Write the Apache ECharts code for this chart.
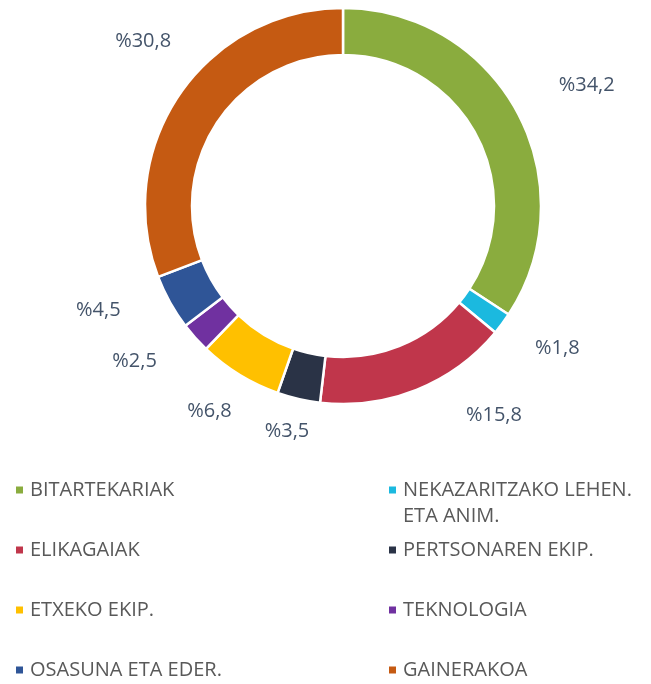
<!DOCTYPE html>
<html>
<head>
<meta charset="utf-8">
<script src="https://cdn.jsdelivr.net/npm/echarts@6/dist/echarts.min.js"></script>
<style>
  html, body { margin: 0; padding: 0; background: #fff; }
  #chart { width: 651px; height: 684px; }
</style>
</head>
<body>
<div id="chart"></div>
<script>
// sector names, shares (%) and colours
var names = [
  'BITARTEKARIAK',
  'NEKAZARITZAKO LEHEN. ETA ANIM.',
  'ELIKAGAIAK',
  'PERTSONAREN EKIP.',
  'ETXEKO EKIP.',
  'TEKNOLOGIA',
  'OSASUNA ETA EDER.',
  'GAINERAKOA'
]
var shares = [34.2, 1.8, 15.8, 3.5, 6.8, 2.5, 4.5, 30.8]
var colors = ['#8AAC3E', '#1BB9DF', '#C0364B', '#2A3346', '#FFC000', '#7031A0', '#2F5597', '#C55A12']

// label placement (like the original's "best fit"): angle shift in degrees, distance from centre
var labelTurn = [2, -3, -14, 1, 1.5, 5, 6, 5]
var labelDist = [272, 257, 258, 232, 245, 260, 266, 259]

var cx = 343
var cy = 206

var total = shares.reduce(function (a, b) { return a + b }, 0)
var midAngles = []
var acc = 0
shares.forEach(function (v) {
  midAngles.push((acc + v / 2) / total * 360)
  acc += v
})

var chart = echarts.init(document.getElementById('chart'))

// one legend per item so it sits in a two column grid
var legends = names.map(function (n, i) {
  var col = i % 2
  var row = Math.floor(i / 2)
  var wrapped = i === 1
  return {
    data: [n],
    left: col === 0 ? 14 : 387,
    top: 477 + row * 60 - (wrapped ? 26 : 0),
    padding: 0,
    icon: 'rect',
    itemWidth: 9,
    itemHeight: 9,
    itemGap: 0,
    selectedMode: false,
    formatter: function (name) {
      // blank first line keeps the icon level with "NEKAZARITZAKO LEHEN."
      return wrapped ? ' \n' + name.replace(' ETA ANIM.', '\nETA ANIM.') : name
    },
    textStyle: {
      fontFamily: 'Open Sans',
      fontSize: 20,
      color: '#595959',
      lineHeight: 26,
      padding: [0, 0, 0, 1]
    }
  }
})

chart.setOption({
  color: colors,
  legend: legends,
  series: [
    {
      type: 'pie',
      center: [cx, cy],
      radius: [151, 198],
      startAngle: 90,
      clockwise: true,
      avoidLabelOverlap: false,
      itemStyle: {
        borderColor: '#fff',
        borderWidth: 2.5
      },
      label: {
        show: true,
        position: 'outside',
        fontFamily: 'Open Sans',
        fontSize: 20,
        color: '#44546A',
        formatter: function (p) {
          return '%' + p.value.toFixed(1).replace('.', ',')
        }
      },
      labelLine: { show: false },
      labelLayout: function (p) {
        var i = p.dataIndex
        var a = (midAngles[i] + labelTurn[i]) * Math.PI / 180
        return {
          x: cx + labelDist[i] * Math.sin(a),
          y: cy - labelDist[i] * Math.cos(a),
          align: 'center',
          verticalAlign: 'middle'
        }
      },
      emphasis: { disabled: true },
      data: names.map(function (n, i) {
        return { name: n, value: shares[i] }
      })
    }
  ]
})
</script>
</body>
</html>
